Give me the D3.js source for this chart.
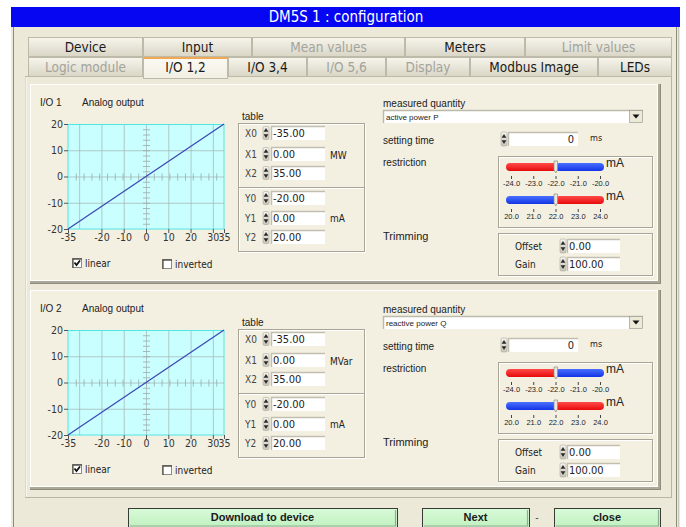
<!DOCTYPE html>
<html>
<head>
<meta charset="utf-8">
<script src="https://cdn.jsdelivr.net/npm/d3@7"></script>
<style>
  body { margin: 0; background: #ffffff; }
  svg text { font-family: "Liberation Sans", Arial, sans-serif; }
  .narrow { font-family: "Liberation Sans Narrow", "DejaVu Sans Condensed", "Liberation Sans", sans-serif !important; }
</style>
</head>
<body>
<svg id="screen" width="686" height="527"></svg>
<script>
// ---- data ----
var title = "DM5S 1 : configuration";
var tabsRow1 = ["Device", "Input", "Mean values", "Meters", "Limit values"];
var tabsRow2 = ["Logic module", "I/O 1,2", "I/O 3,4", "I/O 5,6", "Display", "Modbus Image", "LEDs"];
var disabledTabs = ["Mean values", "Limit values", "Logic module", "I/O 5,6", "Display"];
var activeTab = "I/O 1,2";

var channels = ["I/O 1", "I/O 2"];
var outputType = "Analog output";
var quantities = ["active power P", "reactive power Q"];
var xUnits = ["MW", "MVar"];
var yUnit = "mA";
var xTable = [-35.00, 0.00, 35.00];
var yTable = [-20.00, 0.00, 20.00];
var xTicks = [-35, -20, -10, 0, 10, 20, 30, 35];
var xGrid = [-30, -20, -10, 0, 10, 20, 30];
var yTicks = [-20, -10, 0, 10, 20];
var settingTime = 0;
var restrictLowTicks = [-24.0, -23.0, -22.0, -21.0, -20.0];
var restrictHighTicks = [20.0, 21.0, 22.0, 23.0, 24.0];
var restrictLowValue = -22.0;
var restrictHighValue = 22.0;
var trimOffset = 0.00;
var trimGain = 100.00;
var linearChecked = true;
var invertedChecked = false;
var buttons = ["Download to device", "Next", "close"];

// ---- layout (screen chrome) ----
var row1Edges = [28, 143, 252, 405, 525, 672];
var row2Edges = [28, 143, 228, 307, 386, 470, 598, 672];
var panelStep = 206;

var svg = d3.select("#screen");
var defs = svg.append("defs");

// plain hyphen instead of the typographic minus
function fmt(spec) {
  var f = d3.format(spec);
  return function(d) { return f(d).replace("\u2212", "-"); };
}

function grad(id, c1, c2) {
  var g = defs.append("linearGradient").attr("id", id).attr("x1", 0).attr("y1", 0).attr("x2", 0).attr("y2", 1);
  g.append("stop").attr("offset", "0%").attr("stop-color", c1);
  g.append("stop").attr("offset", "100%").attr("stop-color", c2);
}
grad("tabGrad", "#f7f5ec", "#d9d6c6");
grad("tabActive", "#fbfaf4", "#f2efe2");
grad("redBar", "#ff4a4a", "#e80a0a");
grad("blueBar", "#4a70ff", "#1234e6");
grad("btnGrad", "#d8fbd8", "#bff0bf");
grad("spinGrad", "#f4f3ee", "#c9c6b8");

// window
svg.append("rect").attr("x", 11).attr("y", 7).attr("width", 669).attr("height", 520).attr("fill", "#ece9d8");
svg.append("line").attr("x1", 13.5).attr("x2", 13.5).attr("y1", 27).attr("y2", 527).attr("stroke", "#8d8b7e");
svg.append("line").attr("x1", 676.5).attr("x2", 676.5).attr("y1", 27).attr("y2", 527).attr("stroke", "#8d8b7e");
svg.append("line").attr("x1", 678.5).attr("x2", 678.5).attr("y1", 27).attr("y2", 527).attr("stroke", "#c9c6b6");

// title bar
svg.append("rect").attr("x", 11).attr("y", 7).attr("width", 669).attr("height", 20).attr("fill", "#0606f2");
svg.append("text").attr("class", "narrow").attr("x", 346).attr("y", 22)
  .attr("text-anchor", "middle").attr("font-size", "15px").attr("fill", "#ffffff").text(title);

// tab page
svg.append("rect").attr("x", 25.5).attr("y", 76.5).attr("width", 646).attr("height", 421)
  .attr("fill", "#ece9d8").attr("stroke", "#b8b5a6");
svg.append("line").attr("x1", 26).attr("x2", 26).attr("y1", 77).attr("y2", 497).attr("stroke", "#ffffff");

function drawTabs(labels, edges, y0, h) {
  var g = svg.append("g");
  labels.forEach(function(lab, i) {
    var x0 = edges[i], x1 = edges[i + 1];
    var active = lab === activeTab;
    g.append("rect").attr("x", x0 + 0.5).attr("y", y0 + 0.5).attr("width", x1 - x0 - 1).attr("height", active ? h + 1 : h - 1)
      .attr("fill", active ? "url(#tabActive)" : "url(#tabGrad)")
      .attr("stroke", "#bdbaa9");
    if (active) {
      g.append("line").attr("x1", x0 + 1).attr("x2", x1 - 1).attr("y1", y0 + 1).attr("y2", y0 + 1)
        .attr("stroke", "#f0a855").attr("stroke-width", 2);
    }
    g.append("text").attr("class", "narrow")
      .attr("x", (x0 + x1) / 2).attr("y", y0 + h - 5)
      .attr("text-anchor", "middle").attr("font-size", "13.5px")
      .attr("fill", disabledTabs.indexOf(lab) >= 0 ? "#a3a39c" : "#1a1a1a")
      .text(lab);
  });
}
drawTabs(tabsRow1, row1Edges, 37, 20);
drawTabs(tabsRow2, row2Edges, 57, 20);

// ---- helpers ----
function spinner(g, x, yc, h) {
  g.append("rect").attr("x", x).attr("y", yc - h / 2).attr("width", 6).attr("height", h).attr("rx", 1.5)
    .attr("fill", "url(#spinGrad)").attr("stroke", "#9d9a8c").attr("stroke-width", 0.5);
  g.append("path").attr("d", "M" + (x + 0.6) + "," + (yc - 1.2) + "l2.4,-3.8l2.4,3.8z").attr("fill", "#2a2a2a");
  g.append("path").attr("d", "M" + (x + 0.6) + "," + (yc + 1.2) + "l2.4,3.8l2.4,-3.8z").attr("fill", "#2a2a2a");
}
function field(g, x, yc, w, h, txt, right) {
  g.append("rect").attr("x", x).attr("y", yc - h / 2).attr("width", w).attr("height", h).attr("fill", "#ffffff");
  g.append("path").attr("d", "M" + (x + 0.5) + "," + (yc + h / 2) + "V" + (yc - h / 2 + 0.5) + "H" + (x + w))
    .attr("fill", "none").attr("stroke", "#c2bfb0").attr("stroke-width", 1.5);
  g.append("text").attr("class", "narrow")
    .attr("x", right ? x + w - 4 : x + 2).attr("y", yc + 4)
    .attr("text-anchor", right ? "end" : "start")
    .attr("font-size", "11px").attr("fill", "#222").text(txt);
}
function groupBox(g, x, y, w, h) {
  g.append("rect").attr("x", x + 1.5).attr("y", y + 1.5).attr("width", w).attr("height", h)
    .attr("fill", "none").attr("stroke", "#ffffff");
  g.append("rect").attr("x", x + 0.5).attr("y", y + 0.5).attr("width", w).attr("height", h)
    .attr("fill", "none").attr("stroke", "#a9a697");
}
function label(g, x, y, txt, size, cls) {
  return g.append("text").attr("class", cls || null).attr("x", x).attr("y", y)
    .attr("font-size", size || "10px").attr("fill", "#222").text(txt);
}
function checkbox(g, x, y, checked, txt) {
  g.append("rect").attr("x", x + 0.5).attr("y", y + 0.5).attr("width", 9).attr("height", 9)
    .attr("fill", "#ffffff").attr("stroke", "#8e8c80");
  g.append("path").attr("d", "M" + (x + 1) + "," + (y + 10) + "V" + (y + 1) + "H" + (x + 10))
    .attr("fill", "none").attr("stroke", "#55544d").attr("stroke-width", 1.3);
  if (checked) {
    g.append("path").attr("d", "M" + (x + 2.5) + "," + (y + 4.5) + "l2,2.5l3.5,-4.5")
      .attr("fill", "none").attr("stroke", "#111").attr("stroke-width", 1.8);
  }
  label(g, x + 13, y + 9, txt, "10px", "narrow");
}
function slider(g, ticks, value, leftColor, rightColor, yc) {
  var s = d3.scaleLinear().domain(d3.extent(ticks)).range([511, 600]);
  var xv = s(value);
  g.append("rect").attr("x", 506).attr("y", yc - 4).attr("width", xv - 506 + 4).attr("height", 8)
    .attr("rx", 4).attr("fill", "url(#" + leftColor + ")");
  g.append("rect").attr("x", xv).attr("y", yc - 4).attr("width", 604 - xv).attr("height", 8)
    .attr("rx", 4).attr("fill", "url(#" + rightColor + ")");
  g.append("path").attr("d", "M" + (xv - 1.5) + "," + (yc - 6) + "h3.5v9l-1.7,3l-1.8,-3z")
    .attr("fill", "#e9e7de").attr("stroke", "#8e8c80").attr("stroke-width", 0.7);
  label(g, 606, yc, yUnit, "12px");
  var ax = g.append("g").attr("transform", "translate(0," + (yc + 9) + ")")
    .call(d3.axisBottom(s).tickValues(ticks).tickSize(3).tickPadding(2).tickFormat(fmt(".1f")));
  ax.select(".domain").remove();
  ax.selectAll(".tick line").attr("stroke", "#444");
  ax.selectAll(".tick text").attr("font-size", "7.5px").attr("fill", "#222");
}

// ---- one configuration panel per I/O channel ----
function drawChannel(i) {
  var g = svg.append("g").attr("transform", "translate(0," + (i * panelStep) + ")");

  // raised panel
  g.append("rect").attr("x", 30).attr("y", 84).attr("width", 631).attr("height", 200).attr("fill", "#aca899");
  g.append("rect").attr("x", 30).attr("y", 84).attr("width", 628).attr("height", 197).attr("fill", "#ffffff");
  g.append("rect").attr("x", 31).attr("y", 85).attr("width", 626).attr("height", 195).attr("fill", "#f3f0e2");
  g.append("line").attr("x1", 30).attr("x2", 661).attr("y1", 283.5).attr("y2", 283.5).attr("stroke", "#8f8c7c");
  g.append("line").attr("x1", 660.5).attr("x2", 660.5).attr("y1", 84).attr("y2", 284).attr("stroke", "#8f8c7c");

  label(g, 40, 106, channels[i], "10px");
  label(g, 82, 106, outputType, "10px");

  // chart
  var x = d3.scaleLinear().domain([xTable[0], xTable[xTable.length - 1]]).range([68, 224]);
  var y = d3.scaleLinear().domain([yTable[0], yTable[yTable.length - 1]]).range([229, 124]);

  g.append("rect").attr("x", x.range()[0]).attr("y", y.range()[1])
    .attr("width", x.range()[1] - x.range()[0]).attr("height", y.range()[0] - y.range()[1])
    .attr("fill", "#c9ffff");

  g.append("g").selectAll("line").data(xGrid).enter().append("line")
    .attr("x1", function(d) { return x(d) + 0.5; }).attr("x2", function(d) { return x(d) + 0.5; })
    .attr("y1", y(20)).attr("y2", y(-20)).attr("stroke", "#a9b9b9").attr("stroke-width", 0.8);
  g.append("g").selectAll("line").data(yTicks.slice(1, -1)).enter().append("line")
    .attr("x1", x(-35)).attr("x2", x(35))
    .attr("y1", function(d) { return y(d) + 0.5; }).attr("y2", function(d) { return y(d) + 0.5; })
    .attr("stroke", "#a9b9b9").attr("stroke-width", 0.8);

  // small cross ticks on the zero axes (20 divisions each way)
  var xm = d3.scaleLinear().domain([0, 20]).range(x.domain());
  var ym = d3.scaleLinear().domain([0, 20]).range(y.domain());
  var xMinorVals = d3.range(1, 20).map(xm);
  var yMinorVals = d3.range(1, 20).map(ym);
  g.append("g").selectAll("line").data(xMinorVals).enter().append("line")
    .attr("x1", function(d) { return x(d) + 0.5; }).attr("x2", function(d) { return x(d) + 0.5; })
    .attr("y1", y(0) - 3).attr("y2", y(0) + 4).attr("stroke", "#9aaaaa").attr("stroke-width", 0.8);
  g.append("g").selectAll("line").data(yMinorVals).enter().append("line")
    .attr("x1", x(0) - 3).attr("x2", x(0) + 4)
    .attr("y1", function(d) { return y(d) + 0.5; }).attr("y2", function(d) { return y(d) + 0.5; })
    .attr("stroke", "#9aaaaa").attr("stroke-width", 0.8);

  g.append("rect").attr("x", x.range()[0]).attr("y", y.range()[1] + 0.5)
    .attr("width", x.range()[1] - x.range()[0]).attr("height", y.range()[0] - y.range()[1] - 0.5)
    .attr("fill", "none").attr("stroke", "#4fe6e6").attr("stroke-width", 1);

  var pts = xTable.map(function(d, k) { return [d, yTable[k]]; });
  g.append("path").datum(pts)
    .attr("d", d3.line().x(function(d) { return x(d[0]); }).y(function(d) { return y(d[1]); }))
    .attr("fill", "none").attr("stroke", "#3d48b8").attr("stroke-width", 1.3);

  var ay = g.append("g").attr("transform", "translate(" + x.range()[0] + ",0)")
    .call(d3.axisLeft(y).tickValues(yTicks).tickSize(4).tickPadding(1).tickFormat(fmt("d")));
  var axb = g.append("g").attr("transform", "translate(0," + y.range()[0] + ")")
    .call(d3.axisBottom(x).tickValues(xTicks).tickSize(4).tickPadding(1).tickFormat(fmt("d")));
  [ay, axb].forEach(function(a) {
    a.select(".domain").remove();
    a.selectAll(".tick line").attr("stroke", "#555");
    a.selectAll(".tick text").attr("class", "narrow").attr("font-size", "10.5px").attr("fill", "#333");
  });

  checkbox(g, 72, 258, linearChecked, "linear");
  checkbox(g, 162, 259, invertedChecked, "inverted");

  // table
  label(g, 242, 120, "table", "10px");
  groupBox(g, 238, 123, 126, 64);
  groupBox(g, 238, 187, 126, 64);
  var rowsY = [133, 154, 173, 198, 218, 237];
  var rowLabels = ["X0", "X1", "X2", "Y0", "Y1", "Y2"];
  var rowVals = xTable.concat(yTable);
  rowLabels.forEach(function(lab, k) {
    label(g, 245, rowsY[k] + 4, lab, "10px", "narrow").attr("fill", "#444");
    spinner(g, 263, rowsY[k], 13);
    field(g, 271, rowsY[k], 54, 14, fmt(".2f")(rowVals[k]), false);
  });
  label(g, 330, 159, xUnits[i], "10px", "narrow");
  label(g, 330, 222, yUnit, "10px", "narrow");

  // measured quantity
  label(g, 383, 107, "measured quantity", "10px");
  g.append("rect").attr("x", 383).attr("y", 110).attr("width", 260).attr("height", 13).attr("fill", "#ffffff");
  g.append("path").attr("d", "M383.5,123V110.5H643").attr("fill", "none").attr("stroke", "#bdbaab").attr("stroke-width", 1.5);
  label(g, 386, 120, quantities[i], "8px");
  g.append("rect").attr("x", 629.5).attr("y", 110.5).attr("width", 13).attr("height", 12)
    .attr("fill", "#ece9d8").attr("stroke", "#9d9a8c").attr("stroke-width", 0.7);
  g.append("path").attr("d", "M632.5,114.5h7l-3.5,4z").attr("fill", "#111");

  // setting time
  label(g, 383, 144, "setting time", "10px");
  spinner(g, 501, 139, 14);
  field(g, 508, 139, 70, 14, String(settingTime), true);
  label(g, 590, 141, "ms", "9px", "narrow");

  // restriction
  label(g, 383, 166, "restriction", "10px");
  groupBox(g, 498, 156, 154, 71);
  slider(g, restrictLowTicks, restrictLowValue, "redBar", "blueBar", 167);
  slider(g, restrictHighTicks, restrictHighValue, "blueBar", "redBar", 200);

  // trimming
  label(g, 383, 240, "Trimming", "11px");
  groupBox(g, 498, 233, 154, 42);
  label(g, 515, 250, "Offset", "10px", "narrow");
  label(g, 515, 268, "Gain", "10px", "narrow");
  spinner(g, 560, 246, 14);
  spinner(g, 560, 264, 14);
  field(g, 567, 246, 53, 14, fmt(".2f")(trimOffset), false);
  field(g, 567, 264, 53, 14, fmt(".2f")(trimGain), false);
}
channels.forEach(function(c, i) { drawChannel(i); });

// buttons
var btnBoxes = [[128, 397], [422, 529], [554, 660]];
buttons.forEach(function(b, i) {
  var bx = btnBoxes[i];
  svg.append("rect").attr("x", bx[0] + 0.5).attr("y", 508.5).attr("width", bx[1] - bx[0]).attr("height", 20)
    .attr("fill", "url(#btnGrad)").attr("stroke", "#3a3a36");
  svg.append("path").attr("d", "M" + (bx[0] + 2) + "," + 526 + "H" + (bx[1] - 1.5) + "V510")
    .attr("fill", "none").attr("stroke", "#8fb08f").attr("stroke-width", 1.2);
  svg.append("text").attr("x", (bx[0] + bx[1]) / 2).attr("y", 521)
    .attr("text-anchor", "middle").attr("font-size", "11px").attr("font-weight", "bold")
    .attr("fill", "#1a1a1a").text(b);
});
svg.append("text").attr("x", 537).attr("y", 521).attr("text-anchor", "middle")
  .attr("font-size", "10px").attr("fill", "#444").text("-");
</script>
</body>
</html>
